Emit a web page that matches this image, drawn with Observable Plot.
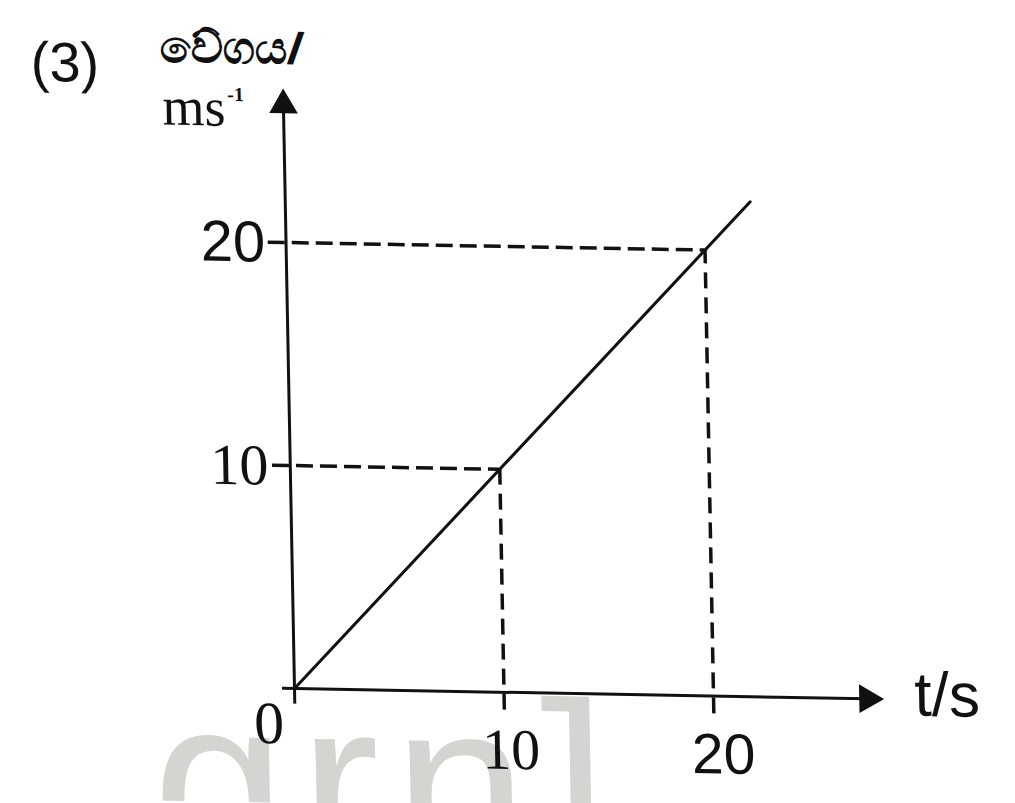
<!DOCTYPE html>
<html>
<head>
<meta charset="utf-8">
<script src="https://cdn.jsdelivr.net/npm/d3@7"></script>
<script src="https://cdn.jsdelivr.net/npm/@observablehq/plot@0.6"></script>
<style>
  html, body { margin: 0; padding: 0; background: #fff; }
  #chart svg { display: block; transform-origin: 294px 688px; transform: matrix(1, 0.018, 0.019, 1, 0, 0); }
</style>
</head>
<body>
<div id="chart"></div>
<script>
// ---- data ----
const questionLabel = "(3)";
const yLabelTop = "වේගය/";
const yLabelUnit = "ms";
const yLabelExp = "-1";
const xLabel = "t/s";
const watermark = "grn]";

const xTicks = [10, 20];          // t / s
const yTicks = [10, 20];          // velocity / m s^-1
const velocityLine = [            // v = t straight line through origin
  {t: 0, v: 0},
  {t: 22.2, v: 22.2}
];
const guidePoints = [             // dashed projections
  {t: 10, v: 10},
  {t: 20, v: 20}
];
const xAxisExtent = [-0.57, 27.35];
const yAxisExtent = [-0.7, 26.17];
const guideStart = -0.85;

const ink = "#111";
const serif = "'Liberation Serif', 'Times New Roman', serif";
const sans = "'Liberation Sans', Arial, sans-serif";

const chart = Plot.plot({
  width: 1015,
  height: 803,
  margin: 0,
  style: {background: "#fff", overflow: "hidden"},
  x: {domain: [0, 20], range: [294, 713], axis: null},
  y: {domain: [0, 20], range: [688, 242], axis: null},
  marks: [
    // faint watermark behind everything
    Plot.text([watermark], {frameAnchor: "top-left", dx: 150, dy: 788, text: d => d,
      fontSize: 240, fontFamily: sans, fill: "#d4d4d0", textAnchor: "start", lineAnchor: "middle"}),

    // dashed guide lines
    Plot.ruleY(guidePoints, {y: "v", x1: guideStart, x2: "t", stroke: ink, strokeWidth: 3.5, strokeDasharray: "17,7"}),
    Plot.ruleX(guidePoints, {x: "t", y1: -0.8, y2: "v", stroke: ink, strokeWidth: 3.5, strokeDasharray: "16,9"}),

    // axes with arrow heads
    Plot.ruleY([0], {x1: xAxisExtent[0], x2: xAxisExtent[1], stroke: ink, strokeWidth: 3}),
    Plot.ruleX([0], {y1: yAxisExtent[0], y2: yAxisExtent[1], stroke: ink, strokeWidth: 3}),
    Plot.dot([{x: xAxisExtent[1], y: 0}], {x: "x", y: "y", symbol: "triangle2", r: 12, rotate: 90, fill: ink, stroke: ink, strokeWidth: 2}),
    Plot.dot([{x: 0, y: yAxisExtent[1]}], {x: "x", y: "y", symbol: "triangle2", r: 12, fill: ink, stroke: ink, strokeWidth: 2}),

    // the velocity line
    Plot.line(velocityLine, {x: "t", y: "v", stroke: ink, strokeWidth: 3}),

    // y tick labels
    Plot.text(yTicks.filter(d => d === 10), {x: 0, y: d => d, text: d => String(d), dx: -22, dy: 1,
      textAnchor: "end", fontSize: 58, fontFamily: serif, fill: ink}),
    Plot.text(yTicks.filter(d => d === 20), {x: 0, y: d => d, text: d => String(d), dx: -21, dy: 1,
      textAnchor: "end", fontSize: 58, fontFamily: sans, fill: ink}),

    // x tick labels
    Plot.text([0], {x: d => d, y: 0, text: d => String(d), dx: -26, dy: 36,
      fontSize: 60, fontFamily: serif, fill: ink}),
    Plot.text(xTicks.filter(d => d === 10), {x: d => d, y: 0, text: d => String(d), dx: 6, dy: 58,
      fontSize: 58, fontFamily: serif, fill: ink}),
    Plot.text(xTicks.filter(d => d === 20), {x: d => d, y: 0, text: d => String(d), dx: 9, dy: 59,
      fontSize: 57, fontFamily: sans, fill: ink}),

    // axis titles
    Plot.text([xLabel], {x: xAxisExtent[1], y: 0, text: d => d, dx: 47, dy: -4,
      textAnchor: "start", fontSize: 62, fontFamily: sans, fill: ink}),
    Plot.text([yLabelTop], {frameAnchor: "top-left", dx: 171, dy: 49, text: d => d,
      textAnchor: "start", lineAnchor: "middle", fontSize: 45, fontFamily: "'Noto Sans', sans-serif", fontWeight: "bold", fill: ink}),
    Plot.text([yLabelUnit], {frameAnchor: "top-left", dx: 173, dy: 109, text: d => d,
      textAnchor: "start", lineAnchor: "middle", fontSize: 54, fontFamily: serif, fill: ink}),
    Plot.text([yLabelExp], {frameAnchor: "top-left", dx: 238, dy: 95, text: d => d,
      textAnchor: "start", lineAnchor: "middle", fontSize: 20, fontFamily: serif, fontWeight: "bold", fill: ink}),

    // question number
    Plot.text([questionLabel], {frameAnchor: "top-left", dx: 42, dy: 67, text: d => d,
      textAnchor: "start", lineAnchor: "middle", fontSize: 56, fontFamily: sans, fill: ink})
  ]
});
// wider letter spacing for the watermark, as in the scan
d3.select(chart).selectAll("text").filter(function () { return this.textContent === watermark; })
  .style("letter-spacing", "14px");
document.getElementById("chart").append(chart);
</script>
</body>
</html>
